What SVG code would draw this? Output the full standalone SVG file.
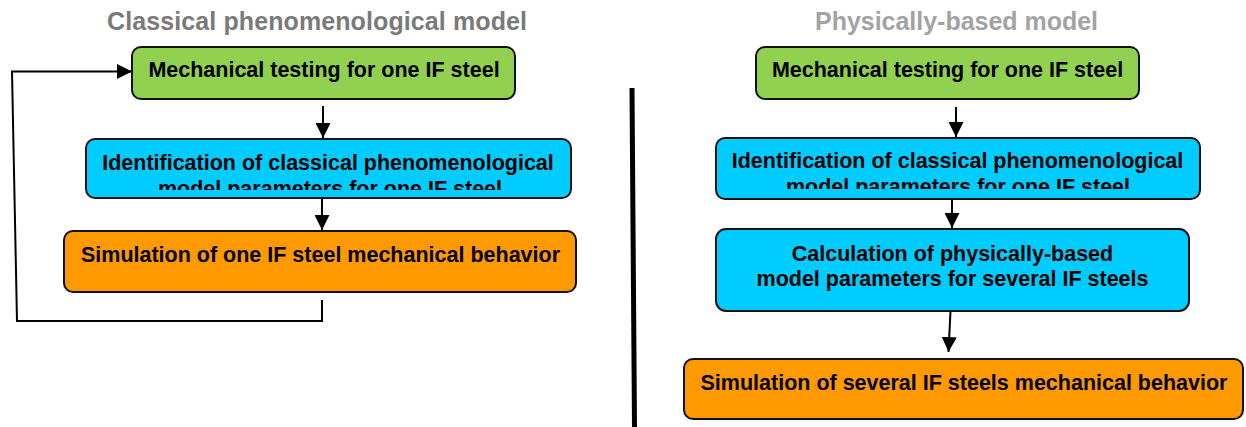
<svg xmlns="http://www.w3.org/2000/svg" width="1246" height="427" viewBox="0 0 1246 427">
<style>
.title{font-family:"Liberation Sans",Arial,sans-serif;font-weight:bold;font-size:25px;text-anchor:middle}
.t{font-family:"Liberation Sans",Arial,sans-serif;font-weight:bold;font-size:21.5px;text-anchor:middle;fill:#000}
.box{stroke:#111;stroke-width:2}
.green{fill:#92d050}
.blue{fill:#00ccff}
.orange{fill:#ff9900}
.conn{fill:none;stroke:#000;stroke-width:2}
</style>
<defs>
<marker id="arr" markerUnits="userSpaceOnUse" markerWidth="15" markerHeight="15" refX="15" refY="7.5" orient="auto">
<path d="M0,0 L15,7.5 L0,15 Z" fill="#000"/>
</marker>
<clipPath id="clipL"><rect x="80" y="140" width="500" height="50"/></clipPath>
<clipPath id="clipR"><rect x="710" y="139" width="500" height="50"/></clipPath>
</defs>
<rect width="1246" height="427" fill="#fff"/>

<g id="title-left"><text class="title" x="317" y="30" fill="#7a7a7a" textLength="420">Classical phenomenological model</text></g>
<g id="title-right"><text class="title" x="956.5" y="30" fill="#a3a3a3" textLength="283">Physically-based model</text></g>

<g id="separator"><line x1="632" y1="88" x2="634.5" y2="427" stroke="#000" stroke-width="5"/></g>

<g id="connectors">
<line class="conn" x1="323" y1="106" x2="323" y2="138" marker-end="url(#arr)"/>
<line class="conn" x1="322" y1="198" x2="322" y2="230" marker-end="url(#arr)"/>
<polyline class="conn" points="322,300 322,321 17,321 12,71.5 132,71.5" marker-end="url(#arr)"/>
<line class="conn" x1="956" y1="107" x2="956" y2="137" marker-end="url(#arr)"/>
<line class="conn" x1="952" y1="199" x2="952" y2="228" marker-end="url(#arr)"/>
<line class="conn" x1="950.5" y1="311" x2="948.5" y2="352" marker-end="url(#arr)"/>
</g>

<g id="n-left-testing">
<rect class="box green" x="132" y="47" width="383" height="52" rx="9"/>
<text class="t" x="324" y="77">Mechanical testing for one IF steel</text>
</g>
<g id="n-left-identification">
<rect class="box blue" x="86" y="139" width="485" height="59" rx="9"/>
<g clip-path="url(#clipL)">
<text class="t" x="328" y="170">Identification of classical phenomenological</text>
<text class="t" x="330" y="196">model parameters for one IF steel</text>
</g>
</g>
<g id="n-left-simulation">
<rect class="box orange" x="64" y="231" width="512" height="61" rx="9"/>
<text class="t" x="320.5" y="262">Simulation of one IF steel mechanical behavior</text>
</g>

<g id="n-right-testing">
<rect class="box green" x="756" y="47" width="383" height="52" rx="9"/>
<text class="t" x="947.5" y="77">Mechanical testing for one IF steel</text>
</g>
<g id="n-right-identification">
<rect class="box blue" x="716" y="138" width="484" height="61" rx="9"/>
<g clip-path="url(#clipR)">
<text class="t" x="957.5" y="168">Identification of classical phenomenological</text>
<text class="t" x="958" y="194">model parameters for one IF steel</text>
</g>
</g>
<g id="n-right-calculation">
<rect class="box blue" x="716" y="229" width="473" height="82" rx="10"/>
<text class="t" x="952.5" y="261">Calculation of physically-based</text>
<text class="t" x="952.5" y="286">model parameters for several IF steels</text>
</g>
<g id="n-right-simulation">
<rect class="box orange" x="684" y="359" width="559" height="60" rx="9"/>
<text class="t" x="964" y="390">Simulation of several IF steels mechanical behavior</text>
</g>
</svg>
